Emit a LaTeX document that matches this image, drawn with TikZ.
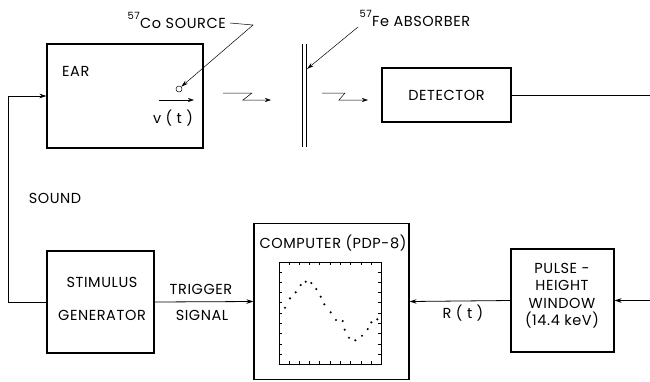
\documentclass[tikz,border=0pt]{standalone}
\usepackage{fontspec}
\setmainfont{Poppins}[LetterSpace=4]
\usetikzlibrary{arrows.meta,calc}
\begin{document}
\begin{tikzpicture}[x=1pt,y=-1pt,
  every node/.style={font=\fontsize{14.5}{17.5}\selectfont},
  blk/.style={draw,line width=1.1pt,inner sep=0pt},
  ln/.style={line width=0.8pt},
  arr/.style={ln,-{Stealth[length=7pt,width=4.5pt]}},
  thin/.style={line width=0.5pt},
  tarr/.style={thin,-{Stealth[length=6pt,width=4pt]}},
  sup/.style={font=\fontsize{10}{11}\selectfont,inner sep=0pt},
  lab/.style={inner sep=0pt},
  dot/.style={circle,fill,inner sep=0pt,minimum size=2.4pt}]
\useasboundingbox (0,0) rectangle (650,381);
% blocks
\node[blk,minimum width=156pt,minimum height=104pt] (ear) at (125,96) {};
\node[lab,anchor=base west] (eart) at (62,76) {EAR};
\node[blk,minimum width=129pt,minimum height=54pt] (det) at (446.5,95) {DETECTOR};
\node[blk,minimum width=107pt,minimum height=102pt] (stim) at (100.5,302) {};
\node[lab,align=center] (stimt) at (102,299) {STIMULUS\\[16pt]GENERATOR};
\node[blk,minimum width=155pt,minimum height=156pt] (comp) at (331.5,301.5) {};
\node[lab] (compt) at (333,243) {COMPUTER (PDP-8)};
\node[draw,line width=0.9pt,minimum width=102pt,minimum height=102pt,inner sep=0pt] (plot) at (330,313) {};
\node[blk,minimum width=103pt,minimum height=103pt] (pulse) at (562.5,300.5) {};
\node[lab,align=center] (pulset) at (562,295.5) {PULSE -\\HEIGHT\\WINDOW\\(14.4 keV)};
% plot ticks
\foreach \i in {1,...,9}{
  \draw[thin] ($(plot.north west)!\i/10!(plot.north east)$) -- ++(0,3);
  \draw[thin] ($(plot.south west)!\i/10!(plot.south east)$) -- ++(0,-3);
  \draw[thin] ($(plot.north west)!\i/10!(plot.south west)$) -- ++(3,0);
  \draw[thin] ($(plot.north east)!\i/10!(plot.south east)$) -- ++(-3,0);
}
% plot dots
\foreach \px/\py [count=\k] in {285/307.7,290/298.3,295.7/292.3,300.7/285,305.7/281.7,311.3/283,
  316.3/289,320.7/296.7,324.3/304.3,330.7/312.3,336/320,342.7/321,344.7/329.7,349/337.7,
  355.3/340.3,362/335.7,367.7/329,371.3/322.3,377.3/319.3}
  \node[dot] (d\k) at (\px,\py) {};
% source and velocity
\node[circle,draw,thin,minimum size=6pt,inner sep=0pt] (src) at (179,89) {};
\coordinate (va) at (159,100);
\coordinate (vb) at (194,100);
\draw[tarr] (va) -- (vb);
\node[lab] (vt) at (173,118) {v ( t )};
% source label
\node[lab,anchor=base west] (cot) at (140,28) {Co SOURCE};
\node[sup,anchor=base east] (co57) at (cot.base west) [yshift=9pt] {57};
\coordinate (sl1) at (230,23);
\coordinate (sl2) at (253,25);
\draw[thin,-{Stealth[length=7pt,width=4pt]}] (sl1) -- (sl2) -- (src.north east);
% absorber
\node[inner sep=0pt,minimum width=3pt,minimum height=103pt] (abs) at (304.5,95.5) {};
\draw[line width=0.9pt] (abs.north west) -- (abs.south west);
\draw[line width=0.9pt] (abs.north east) -- (abs.south east);
\node[lab,anchor=base west] (fet) at (372,26) {Fe ABSORBER};
\node[sup,anchor=base east] (fe57) at (fet.base west) [yshift=9pt] {57};
\coordinate (al1) at (358,27);
\coordinate (al2) at (307,69);
\draw[thin,-{Stealth[length=7pt,width=4pt]}] (al1) -- (al2);
% gamma zigzags
\coordinate (z1a) at (223,93); \coordinate (z1b) at (252,93);
\coordinate (z1c) at (243,100); \coordinate (z1d) at (271,100);
\draw[tarr] (z1a) -- (z1b) -- (z1c) -- (z1d);
\coordinate (z2a) at (322,93); \coordinate (z2b) at (345,93);
\coordinate (z2c) at (339,100); \coordinate (z2d) at (368,100);
\draw[tarr] (z2a) -- (z2b) -- (z2c) -- (z2d);
% connectors
\coordinate (fb) at (8,0);
\draw[arr] (stim.west) -- (stim.west -| fb) |- (ear.west);
\node[lab] (sound) at (55,198) {SOUND};
\draw[arr] (stim.east) -- (comp.west);
\node[lab] (trig) at (201,289) {TRIGGER};
\node[lab] (sig) at (202,315) {SIGNAL};
\draw[arr] (pulse.west) -- (comp.east);
\node[lab] (rt) at (463,313) {R ( t )};
\coordinate (re1) at (650,95);
\coordinate (re2) at (650,300.5);
\draw[ln] (det.east) -- (re1);
\draw[arr] (re2) -- (pulse.east);
\end{tikzpicture}
\end{document}
